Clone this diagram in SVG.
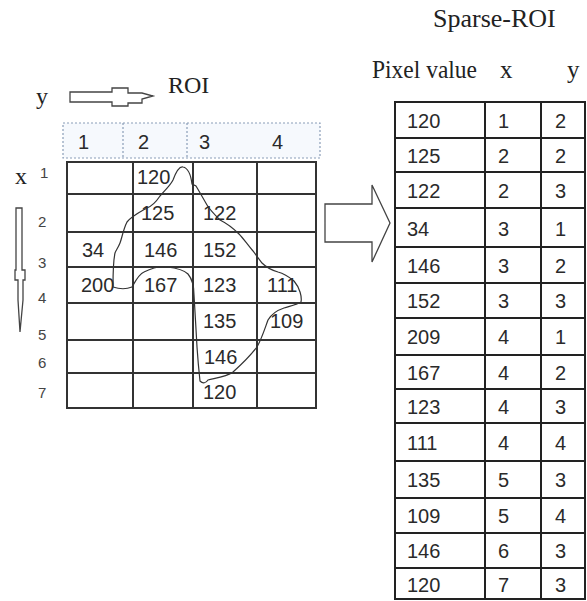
<svg xmlns="http://www.w3.org/2000/svg" width="587" height="601" viewBox="0 0 587 601">
<style>
.serif{font-family:"Liberation Serif","Times New Roman",serif;fill:#222}
.num{font-family:"Liberation Sans",Arial,sans-serif;font-size:20px;fill:#2a2a2a}
.lbl{font-family:"Liberation Sans",Arial,sans-serif;font-size:15px;fill:#444}
.grid{stroke:#333;stroke-width:2;fill:none}
.tbl{stroke:#222;stroke-width:2;fill:none}
.arrow{fill:#fff;stroke:#444;stroke-width:1.3}
</style>
<rect width="587" height="601" fill="#fff"/>

<g id="titles">
<text class="serif" x="433" y="27" font-size="26">Sparse-ROI</text>
<text class="serif" x="372" y="78" font-size="25" textLength="105" lengthAdjust="spacingAndGlyphs">Pixel value</text>
<text class="serif" x="500" y="78" font-size="25">x</text>
<text class="serif" x="567" y="78" font-size="25">y</text>
<text class="serif" x="168" y="93" font-size="24">ROI</text>
<text class="serif" x="36" y="104" font-size="24">y</text>
<text class="serif" x="15" y="184" font-size="24">x</text>
</g>

<g id="axis-arrows">
<path class="arrow" d="M70,92 H112 V88 H128 V93 H142 L153,96 L142,99 V103 H128 V106 H112 V102 H70 Z"/>
<path class="arrow" d="M16,208 H22 V270 H25 V280 H23 V300 L20,332 L18,300 V280 H15 V270 H16 Z"/>
</g>

<g id="column-header">
<rect x="63" y="123" width="257" height="35" fill="#f6f9fd" stroke="#8a9db8" stroke-width="1.2" stroke-dasharray="2,2"/>
<line x1="123" y1="123" x2="123" y2="158" stroke="#8a9db8" stroke-width="1.2" stroke-dasharray="2,2"/>
<line x1="187" y1="123" x2="187" y2="158" stroke="#8a9db8" stroke-width="1.2" stroke-dasharray="2,2"/>
<text class="num" x="78" y="149">1</text>
<text class="num" x="138" y="149">2</text>
<text class="num" x="199" y="149">3</text>
<text class="num" x="272" y="149">4</text>
</g>

<g id="row-labels">
<text class="lbl" x="40" y="178" font-size="12">1</text>
<text class="lbl" x="38" y="227">2</text>
<text class="lbl" x="38" y="268">3</text>
<text class="lbl" x="38" y="303">4</text>
<text class="lbl" x="38" y="340">5</text>
<text class="lbl" x="38" y="368">6</text>
<text class="lbl" x="38" y="398">7</text>
</g>

<g id="roi-grid">
<rect class="grid" x="67" y="162" width="249" height="246"/>
<line class="grid" x1="133" y1="162" x2="133" y2="408"/>
<line class="grid" x1="193" y1="162" x2="193" y2="408" stroke-width="2.5"/>
<line class="grid" x1="257" y1="162" x2="257" y2="408" stroke-width="3.5"/>
<line class="grid" x1="67" y1="194" x2="316" y2="194"/>
<line class="grid" x1="67" y1="232" x2="316" y2="232"/>
<line class="grid" x1="67" y1="267" x2="316" y2="267"/>
<line class="grid" x1="67" y1="303" x2="316" y2="303"/>
<line class="grid" x1="67" y1="340" x2="316" y2="340"/>
<line class="grid" x1="67" y1="373" x2="316" y2="373"/>
<text class="num" x="137" y="184">120</text>
<text class="num" x="141" y="220">125</text>
<text class="num" x="203" y="220">122</text>
<text class="num" x="82" y="257">34</text>
<text class="num" x="144" y="257">146</text>
<text class="num" x="203" y="257">152</text>
<text class="num" x="81" y="292">200</text>
<text class="num" x="144" y="292">167</text>
<text class="num" x="203" y="292">123</text>
<text class="num" x="267" y="292">111</text>
<text class="num" x="203" y="328">135</text>
<text class="num" x="270" y="328">109</text>
<text class="num" x="204" y="364" font-size="18">146</text>
<text class="num" x="203" y="399">120</text>
</g>

<g id="contour">
<path d="M192,184 C191,176 188,168 183,167 C179,166 176,172 173,180 C170,186 165,190 160,196 C156,202 152,206 147,208 C140,212 132,216 127,222 C123,230 122,238 120,243 C118,248 116,250 115,253 C113,262 113,278 113,287 C119,289 127,289 132,287 C136,280 139,274 144,272 C152,268 160,266 167,267 C176,268 184,270 188,274 C193,280 194,286 194,295 C195,310 196,330 197,347 C198,362 199,372 200,381 C203,384 206,383 208,380 C216,378 226,377 233,372 C242,364 250,356 257,347 C262,338 265,328 268,320 C272,313 278,310 284,308 C290,306 296,305 301,302 C302,297 300,288 294,281 C288,276 282,273 278,272 C271,270 266,267 262,263 C259,259 256,255 253,251 C247,244 243,238 239,234 C233,228 226,223 220,220 C215,215 210,210 207,205 C203,198 199,191 196,186 Z" fill="none" stroke="#333" stroke-width="1.2"/>
</g>

<g id="connectors">
<path class="arrow" d="M325,204 H372 V185 L390,223 L372,262 V242 H325 Z" stroke="#555"/>
</g>

<g id="sparse-table">
<rect class="tbl" x="395" y="102" width="190" height="497"/>
<line class="tbl" x1="485" y1="102" x2="485" y2="599"/>
<line class="tbl" x1="541" y1="102" x2="541" y2="599"/>
<line class="tbl" x1="395" y1="138" x2="585" y2="138"/>
<line class="tbl" x1="395" y1="172" x2="585" y2="172"/>
<line class="tbl" x1="395" y1="208" x2="585" y2="208"/>
<line class="tbl" x1="395" y1="247" x2="585" y2="247"/>
<line class="tbl" x1="395" y1="283" x2="585" y2="283"/>
<line class="tbl" x1="395" y1="318" x2="585" y2="318"/>
<line class="tbl" x1="395" y1="355" x2="585" y2="355"/>
<line class="tbl" x1="395" y1="389" x2="585" y2="389"/>
<line class="tbl" x1="395" y1="423" x2="585" y2="423"/>
<line class="tbl" x1="395" y1="461" x2="585" y2="461"/>
<line class="tbl" x1="395" y1="498" x2="585" y2="498"/>
<line class="tbl" x1="395" y1="533" x2="585" y2="533"/>
<line class="tbl" x1="395" y1="568" x2="585" y2="568"/>
<g class="num">
<text x="407" y="128">120</text><text x="498" y="128">1</text><text x="555" y="128">2</text>
<text x="407" y="163">125</text><text x="498" y="163">2</text><text x="555" y="163">2</text>
<text x="407" y="198">122</text><text x="498" y="198">2</text><text x="555" y="198">3</text>
<text x="407" y="236">34</text><text x="498" y="236">3</text><text x="555" y="236">1</text>
<text x="407" y="273">146</text><text x="498" y="273">3</text><text x="555" y="273">2</text>
<text x="407" y="308">152</text><text x="498" y="308">3</text><text x="555" y="308">3</text>
<text x="407" y="344">209</text><text x="498" y="344">4</text><text x="555" y="344">1</text>
<text x="407" y="380">167</text><text x="498" y="380">4</text><text x="555" y="380">2</text>
<text x="407" y="414">123</text><text x="498" y="414">4</text><text x="555" y="414">3</text>
<text x="407" y="450">111</text><text x="498" y="450">4</text><text x="555" y="450">4</text>
<text x="407" y="487">135</text><text x="498" y="487">5</text><text x="555" y="487">3</text>
<text x="407" y="523">109</text><text x="498" y="523">5</text><text x="555" y="523">4</text>
<text x="407" y="558">146</text><text x="498" y="558">6</text><text x="555" y="558">3</text>
<text x="407" y="592">120</text><text x="498" y="592">7</text><text x="555" y="592">3</text>
</g>
</g>
</svg>
